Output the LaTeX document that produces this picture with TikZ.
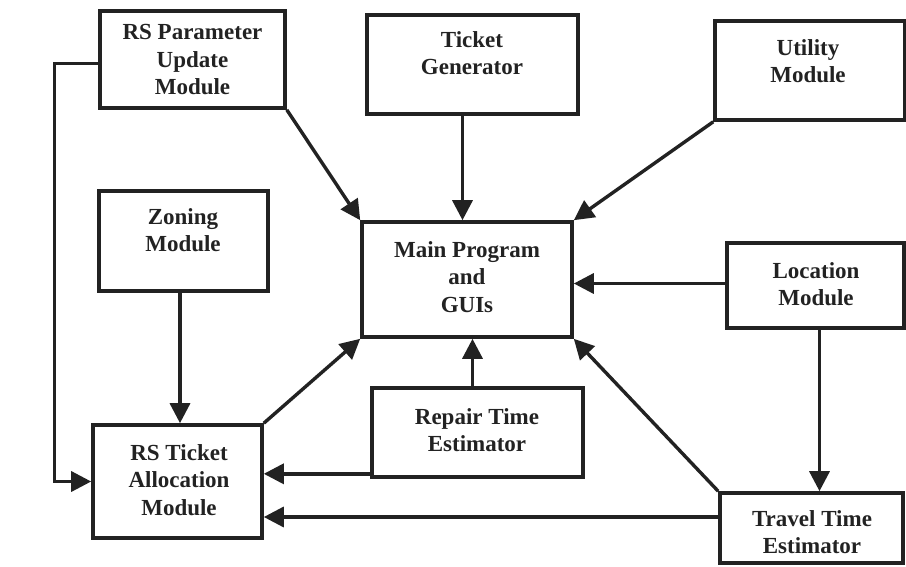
\documentclass[tikz,border=0pt]{standalone}
\usepackage{fontspec}
\setmainfont{Liberation Serif}
\usetikzlibrary{arrows.meta,calc}
\definecolor{ink}{HTML}{222222}
\begin{document}
\begin{tikzpicture}[x=1pt,y=1pt,
  box/.style={draw=ink,line width=3.6pt,rectangle,inner sep=0pt},
  lbl/.style={align=center,font=\fontsize{23}{27.5}\selectfont\bfseries,text=ink,inner sep=0pt},
  arr/.style={draw=ink,line width=3.4pt,-{Triangle[length=20pt,width=20pt]}}]
\useasboundingbox (0,0) rectangle (906,-566);
% boxes
\node[box,minimum width=185pt,minimum height=97pt] (param) at (192.5,-59.5) {};
\node[box,minimum width=211pt,minimum height=99pt] (ticket) at (472.5,-64.5) {};
\node[box,minimum width=190pt,minimum height=99pt] (utility) at (810,-70.5) {};
\node[box,minimum width=169pt,minimum height=100pt] (zoning) at (183.5,-241) {};
\node[box,minimum width=210pt,minimum height=115pt] (main) at (467,-279.5) {};
\node[box,minimum width=177pt,minimum height=85pt] (location) at (815.5,-285.5) {};
\node[box,minimum width=211pt,minimum height=89pt] (repair) at (477.5,-432.5) {};
\node[box,minimum width=169pt,minimum height=113pt] (rsticket) at (177.5,-481.5) {};
\node[box,minimum width=183pt,minimum height=70pt] (travel) at (811.5,-528) {};
% labels
\node[lbl] (paramt) at (192.5,-60) {RS Parameter\\Update\\Module};
\node[lbl] (tickett) at (472,-53) {Ticket\\Generator};
\node[lbl] (utilityt) at (808,-61) {Utility\\Module};
\node[lbl] (zoningt) at (183,-230) {Zoning\\Module};
\node[lbl] (maint) at (467,-277) {Main Program\\and\\GUIs};
\node[lbl] (locationt) at (816,-284) {Location\\Module};
\node[lbl] (repairt) at (477,-430) {Repair Time\\Estimator};
\node[lbl] (rstickett) at (179,-480) {RS Ticket\\Allocation\\Module};
\node[lbl] (travelt) at (812,-532) {Travel Time\\Estimator};
% connectors
\draw[arr] (param.south east) -- (main.north west);
\draw[arr] ([xshift=-10pt]ticket.south) -- ([xshift=-10pt]ticket.south |- main.north);
\draw[arr] (utility.south west) -- (main.north east);
\draw[arr] ([yshift=2pt]location.west) -- ([yshift=2pt]location.west -| main.east);
\draw[arr] ([xshift=4pt]location.south) -- ([xshift=4pt]location.south |- travel.north);
\draw[arr] (travel.north west) -- (main.south east);
\draw[arr] ([xshift=-5pt]repair.north) -- ([xshift=-5pt]repair.north |- main.south);
\draw[arr] ([yshift=5pt]repair.south west) -- ([yshift=5pt]repair.south west -| rsticket.east);
\draw[arr] ([yshift=11pt]travel.west) -- ([yshift=11pt]travel.west -| rsticket.east);
\draw[arr] (rsticket.north east) -- (main.south west);
\draw[arr] ([xshift=-3.5pt]zoning.south) -- ([xshift=-3.5pt]zoning.south |- rsticket.north);
\draw[arr] ([yshift=-4pt]param.west) -- ++(-44pt,0) |- (rsticket.west);
\end{tikzpicture}
\end{document}
